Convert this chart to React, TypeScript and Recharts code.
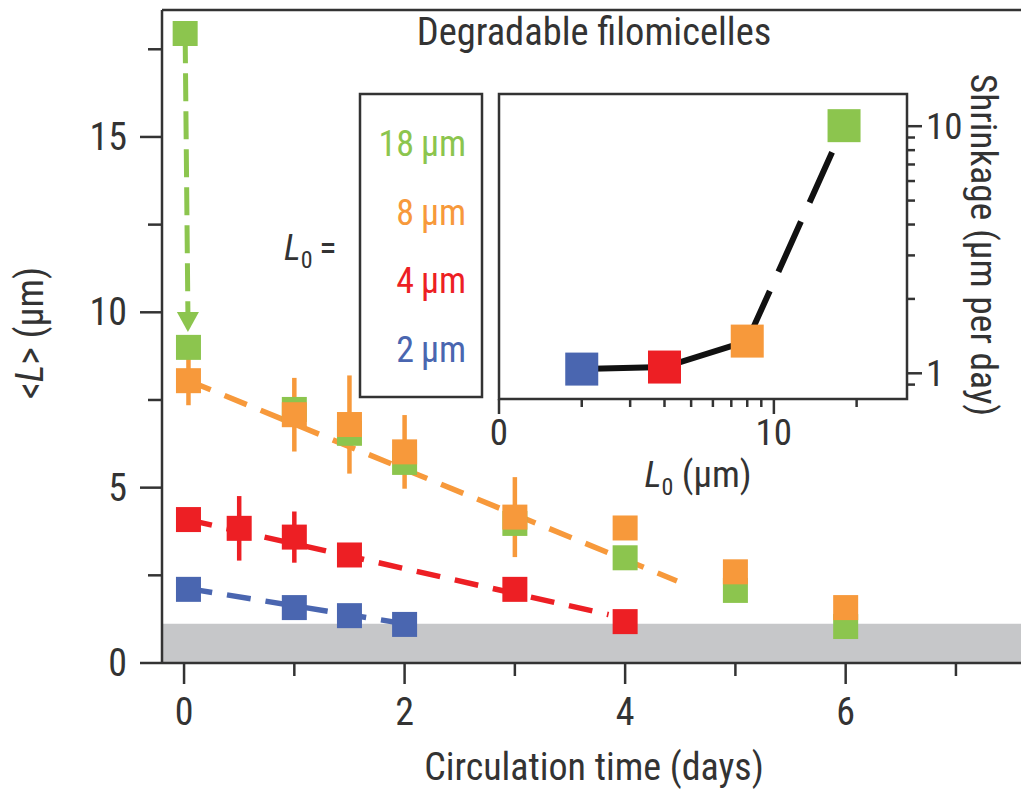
import React from "react"
import {
  ScatterChart,
  Scatter,
  XAxis,
  YAxis,
  ErrorBar,
  ReferenceArea,
  ReferenceLine,
  Cell,
} from "recharts"

const FONT = "'Liberation Sans Narrow', 'Roboto Condensed', 'Liberation Sans', Arial, sans-serif"
const INK = "#333"
const GREEN = "#8cc54e"
const ORANGE = "#f7993b"
const RED = "#ed1f24"
const BLUE = "#4a66b0"

// main panel: mean length <L> vs circulation time, one list per initial length
const green18 = [
  { x: 0.01, y: 17.95, err: 0 },
  { x: 0.04, y: 9.0, err: 0 },
  { x: 1, y: 7.23, err: 0 },
  { x: 1.5, y: 6.55, err: 0 },
  { x: 2, y: 5.72, err: 0 },
  { x: 3, y: 3.98, err: 0 },
  { x: 4, y: 3.0, err: 0 },
  { x: 5, y: 2.07, err: 0 },
  { x: 6, y: 1.04, err: 0 },
]
const orange8 = [
  { x: 0.04, y: 8.05, err: 0.7 },
  { x: 1, y: 7.08, err: 1.05 },
  { x: 1.5, y: 6.8, err: 1.4 },
  { x: 2, y: 6.02, err: 1.05 },
  { x: 3, y: 4.16, err: 1.14 },
  { x: 4, y: 3.85, err: 0.12 },
  { x: 5, y: 2.6, err: 0 },
  { x: 6, y: 1.58, err: 0 },
]
const red4 = [
  { x: 0.04, y: 4.09, err: 0.12 },
  { x: 0.5, y: 3.84, err: 0.92 },
  { x: 1, y: 3.59, err: 0.73 },
  { x: 1.5, y: 3.08, err: 0.12 },
  { x: 3, y: 2.1, err: 0 },
  { x: 4, y: 1.18, err: 0 },
]
const blue2 = [
  { x: 0.04, y: 2.1, err: 0 },
  { x: 1, y: 1.58, err: 0 },
  { x: 1.5, y: 1.35, err: 0 },
  { x: 2, y: 1.1, err: 0 },
]

// dashed guide lines
const greenDrop = [
  { x: 0.01, y: 17.9 },
  { x: 0.035, y: 9.95 },
]
const greenArrowTip = [{ x: 0.035, y: 9.44 }]
const orangeFit = [
  { x: 0.04, y: 8.05 },
  { x: 4.47, y: 2.34 },
]
const redFit = [
  { x: 0.04, y: 4.08 },
  { x: 3.85, y: 1.38 },
]
const blueFit = [
  { x: 0.04, y: 2.12 },
  { x: 2.0, y: 1.12 },
]

const clearanceLimit = 1.12
const mainXTicks = [0, 1, 2, 3, 4, 5, 6, 7]
const mainYTicks = [0, 2.5, 5, 7.5, 10, 12.5, 15, 17.5]

// inset: shrinkage rate vs initial length
const insetL0 = [2, 4, 8, 18]
const insetShrink = [1.04, 1.06, 1.35, 10.05]
const insetColors = [BLUE, RED, ORANGE, GREEN]
const insetXTicks = [1, 2, 3, 4, 5, 6, 7, 8, 9, 10, 20]
const insetYTicks = [0.9, 1, 2, 3, 4, 5, 6, 7, 8, 9, 10]
const insetXLabels: Record<number, string> = { 1: "0", 10: "10" }
const insetYLabels: Record<number, string> = { 1: "1", 10: "10" }

const legendItems = [
  { label: "18\u2009µm", color: GREEN },
  { label: "8\u2009µm", color: ORANGE },
  { label: "4\u2009µm", color: RED },
  { label: "2\u2009µm", color: BLUE },
]

const insetPoints = insetL0.map((x, i) => ({ x, y: insetShrink[i] }))
const insetSolid = insetPoints.slice(0, 3)
const insetDashed = insetPoints.slice(2)

const noShape = () => <g />

function square(size: number) {
  return (props: any) => {
    const { cx, cy, fill } = props
    if (cx == null || cy == null) return <g />
    return <rect x={cx - size / 2} y={cy - size / 2} width={size} height={size} fill={fill} />
  }
}

function ArrowDown(props: any) {
  const { cx, cy } = props
  return <polygon points={`${cx - 11},${cy - 20} ${cx + 11},${cy - 20} ${cx},${cy}`} fill={GREEN} />
}

function MainXTick({ x, y, payload }: any) {
  const major = payload.value % 2 === 0
  return (
    <g>
      <line x1={x} x2={x} y1={y} y2={y + (major ? 21 : 13)} stroke={INK} strokeWidth={2.5} />
      {major && (
        <text x={x} y={y + 62} textAnchor="middle" fontSize={38} fill={INK} fontFamily={FONT}>
          {payload.value}
        </text>
      )}
    </g>
  )
}

function MainYTick({ x, y, payload }: any) {
  const major = payload.value % 5 === 0
  return (
    <g>
      <line x1={x - (major ? 22 : 14)} x2={x} y1={y} y2={y} stroke={INK} strokeWidth={2.5} />
      {major && (
        <text x={x - 35} y={y + 13} textAnchor="end" fontSize={38} fill={INK} fontFamily={FONT}>
          {payload.value}
        </text>
      )}
    </g>
  )
}

function InsetXTick({ x, y, payload }: any) {
  const label = insetXLabels[payload.value]
  return (
    <g>
      <line x1={x} x2={x} y1={y} y2={y + (label ? 15 : 8)} stroke={INK} strokeWidth={2.5} />
      {label && (
        <text x={x} y={y + 46} textAnchor="middle" fontSize={37} fill={INK} fontFamily={FONT}>
          {label}
        </text>
      )}
    </g>
  )
}

function InsetYTick({ x, y, payload }: any) {
  const label = insetYLabels[payload.value]
  return (
    <g>
      <line x1={x} x2={x + (label ? 15 : 8)} y1={y} y2={y} stroke={INK} strokeWidth={2.5} />
      {label && (
        <text x={x + 19} y={y + 13} textAnchor="start" fontSize={37} fill={INK} fontFamily={FONT}>
          {label}
        </text>
      )}
    </g>
  )
}

function MainChart() {
  const sq = square(25)
  return (
    <ScatterChart width={1021} height={793} margin={{ top: 10, right: 0, bottom: 0, left: 0 }}>
      <XAxis
        type="number"
        dataKey="x"
        domain={[-0.2, 7.59]}
        ticks={mainXTicks}
        allowDataOverflow
        height={130}
        tickSize={0}
        tickMargin={0}
        tickLine={false}
        axisLine={{ stroke: INK, strokeWidth: 2.5 }}
        tick={(p: any) => <MainXTick {...p} />}
        interval={0}
      />
      <YAxis
        type="number"
        dataKey="y"
        domain={[0, 18.62]}
        ticks={mainYTicks}
        allowDataOverflow
        width={162}
        tickSize={0}
        tickMargin={0}
        tickLine={false}
        axisLine={{ stroke: INK, strokeWidth: 2.5 }}
        tick={(p: any) => <MainYTick {...p} />}
        interval={0}
      />
      <ReferenceArea y1={0} y2={clearanceLimit} fill="#c6c7c9" fillOpacity={1} stroke="none" />
      <ReferenceLine y={18.62} stroke={INK} strokeWidth={2.5} />

      <Scatter data={greenDrop} isAnimationActive={false} shape={noShape} line={{ stroke: GREEN, strokeWidth: 5, strokeDasharray: "28 10" }} />
      <Scatter data={greenArrowTip} isAnimationActive={false} shape={ArrowDown} />
      <Scatter data={orangeFit} isAnimationActive={false} shape={noShape} line={{ stroke: ORANGE, strokeWidth: 5.5, strokeDasharray: "24 15" }} />
      <Scatter data={redFit} isAnimationActive={false} shape={noShape} line={{ stroke: RED, strokeWidth: 5.5, strokeDasharray: "24 15" }} />
      <Scatter data={blueFit} isAnimationActive={false} shape={noShape} line={{ stroke: BLUE, strokeWidth: 5.5, strokeDasharray: "24 15" }} />

      <Scatter name="18 µm" data={green18} fill={GREEN} isAnimationActive={false} shape={sq} />
      <Scatter name="8 µm" data={orange8} fill={ORANGE} isAnimationActive={false} shape={sq}>
        <ErrorBar dataKey="err" direction="y" width={0} stroke={ORANGE} strokeWidth={4.5} />
      </Scatter>
      <Scatter name="4 µm" data={red4} fill={RED} isAnimationActive={false} shape={sq}>
        <ErrorBar dataKey="err" direction="y" width={0} stroke={RED} strokeWidth={4.5} />
      </Scatter>
      <Scatter name="2 µm" data={blue2} fill={BLUE} isAnimationActive={false} shape={sq} />
    </ScatterChart>
  )
}

function InsetChart() {
  return (
    <ScatterChart width={581} height={480} margin={{ top: 54, right: 0, bottom: 0, left: 59 }}>
      <XAxis
        type="number"
        dataKey="x"
        scale="log"
        domain={[1, 30.5]}
        ticks={insetXTicks}
        allowDataOverflow
        height={121}
        tickSize={0}
        tickMargin={0}
        tickLine={false}
        axisLine={false}
        tick={(p: any) => <InsetXTick {...p} />}
        interval={0}
      />
      <YAxis
        type="number"
        dataKey="y"
        orientation="right"
        scale="log"
        domain={[0.787, 13.5]}
        ticks={insetYTicks}
        allowDataOverflow
        width={114}
        tickSize={0}
        tickMargin={0}
        tickLine={false}
        axisLine={false}
        tick={(p: any) => <InsetYTick {...p} />}
        interval={0}
      />
      <ReferenceArea x1={1} x2={30.5} y1={0.787} y2={13.5} fill="#fff" fillOpacity={1} stroke={INK} strokeWidth={2.5} />
      <Scatter data={insetSolid} isAnimationActive={false} shape={noShape} line={{ stroke: "#111", strokeWidth: 6 }} />
      <Scatter data={insetDashed} isAnimationActive={false} shape={noShape} line={{ stroke: "#111", strokeWidth: 6, strokeDasharray: "55 21" }} />
      <Scatter data={insetPoints} isAnimationActive={false} shape={square(33)}>
        {insetPoints.map((_, i) => (
          <Cell key={i} fill={insetColors[i]} />
        ))}
      </Scatter>
    </ScatterChart>
  )
}

function Annotations() {
  return (
    <svg width={1021} height={793} style={{ position: "absolute", left: 0, top: 0, pointerEvents: "none" }} fontFamily={FONT}>
      <text x={594} y={45} textAnchor="middle" fontSize={38.5} fill={INK}>
        Degradable filomicelles
      </text>
      <text x={594} y={780} textAnchor="middle" fontSize={38} fill={INK}>
        Circulation time (days)
      </text>
      <text transform="translate(43,333) rotate(-90)" textAnchor="middle" fontSize={38} fill={INK}>
        &lt;<tspan fontStyle="italic">L</tspan>&gt; (µm)
      </text>

      <rect x={360} y={94} width={122} height={303} fill="#fff" stroke={INK} strokeWidth={2.5} />
      {legendItems.map((item, i) => (
        <text key={item.label} x={466} y={156 + i * 68.7} textAnchor="end" fontSize={36} fill={item.color}>
          {item.label}
        </text>
      ))}
      <text x={284} y={260} fontSize={36} fill={INK}>
        <tspan fontStyle="italic">L</tspan>
        <tspan fontSize={24} dy={8}>0</tspan>
        <tspan dy={-8}>{"\u2009="}</tspan>
      </text>

      <text x={698} y={487} textAnchor="middle" fontSize={37} fill={INK}>
        <tspan fontStyle="italic">L</tspan>
        <tspan fontSize={24} dy={8}>0</tspan>
        <tspan dy={-8}> (µm)</tspan>
      </text>
      <text transform="translate(971,245) rotate(90)" textAnchor="middle" fontSize={37.5} fill={INK}>
        Shrinkage (µm per day)
      </text>
    </svg>
  )
}

export default function App() {
  return (
    <div style={{ position: "absolute", left: 0, top: 0, width: 1021, height: 793, background: "#fff", fontFamily: FONT, overflow: "hidden" }}>
      <MainChart />
      <div style={{ position: "absolute", left: 440, top: 40 }}>
        <InsetChart />
      </div>
      <Annotations />
    </div>
  )
}
